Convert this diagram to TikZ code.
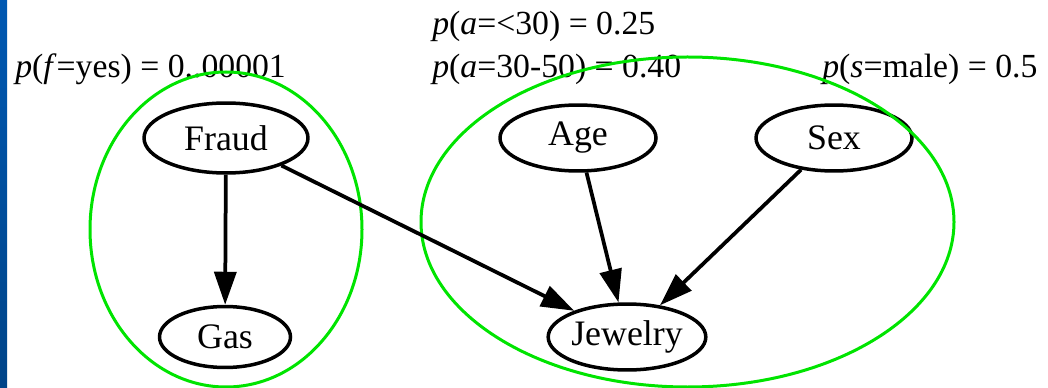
\documentclass[tikz,border=0pt]{standalone}
\usepackage{fontspec}
\setmainfont{Liberation Serif}
\newfontfamily\timesfont{Liberation Serif}
\usetikzlibrary{arrows.meta,shapes.geometric}
\definecolor{groupgreen}{RGB}{0,228,0}
\definecolor{barblue}{RGB}{0,88,178}
\definecolor{barbluedark}{RGB}{0,68,136}

\begin{document}
\begin{tikzpicture}[x=0.02cm,y=-0.02cm,>={Triangle[length=0.66cm,width=0.44cm]},
  var/.style={draw,ellipse,line width=0.07cm,inner sep=0pt,
    minimum width=3.12cm,minimum height=1.32cm,font=\timesfont\fontsize{20.4}{22}\selectfont},
  prob/.style={anchor=base west,inner sep=0pt,font=\timesfont\fontsize{19.2}{21}\selectfont},
  group/.style={draw=groupgreen,line width=0.06cm}]
  \useasboundingbox (0,0) rectangle (1048,388);
  \shade[top color=barblue,bottom color=barbluedark] (0,0) rectangle (7,388);
  % priors
  \node[prob] (pf)  at (15,78)  {\textit{p}(\textit{f}=yes) = 0..00001};
  \node[prob] (pa1) at (432,35) {\textit{p}(\textit{a}=<30) = 0.25};
  \node[prob] (pa2) at (432,78) {\textit{p}(\textit{a}=30-50) = 0.40};
  \node[prob] (ps)  at (822,78) {\textit{p}(\textit{s}=male) = 0.5};
  % variables
  \node[var,minimum width=3.28cm,minimum height=1.4cm] (fraud) at (226,138) {Fraud};
  \node[var,minimum width=2.62cm,minimum height=1.22cm] (gas) at (225,337) {Gas};
  \node[var] (age) at (578,138) {Age};
  \node[var] (sex) at (834,138) {Sex};
  \node[var] (jewelry) at (627,337) {Jewelry};
  % groups
  \draw[group] (226,229.5) ellipse [x radius=136,y radius=157.5];
  \draw[group] (687.5,222) ellipse [x radius=266.5,y radius=165];
  % edges
  \draw[->,line width=0.075cm] (fraud) -- (gas);
  \draw[->,line width=0.075cm] (fraud) -- (jewelry);
  \draw[->,line width=0.075cm] (age) -- (jewelry);
  \draw[->,line width=0.075cm] (sex) -- (jewelry);
\end{tikzpicture}
\end{document}
